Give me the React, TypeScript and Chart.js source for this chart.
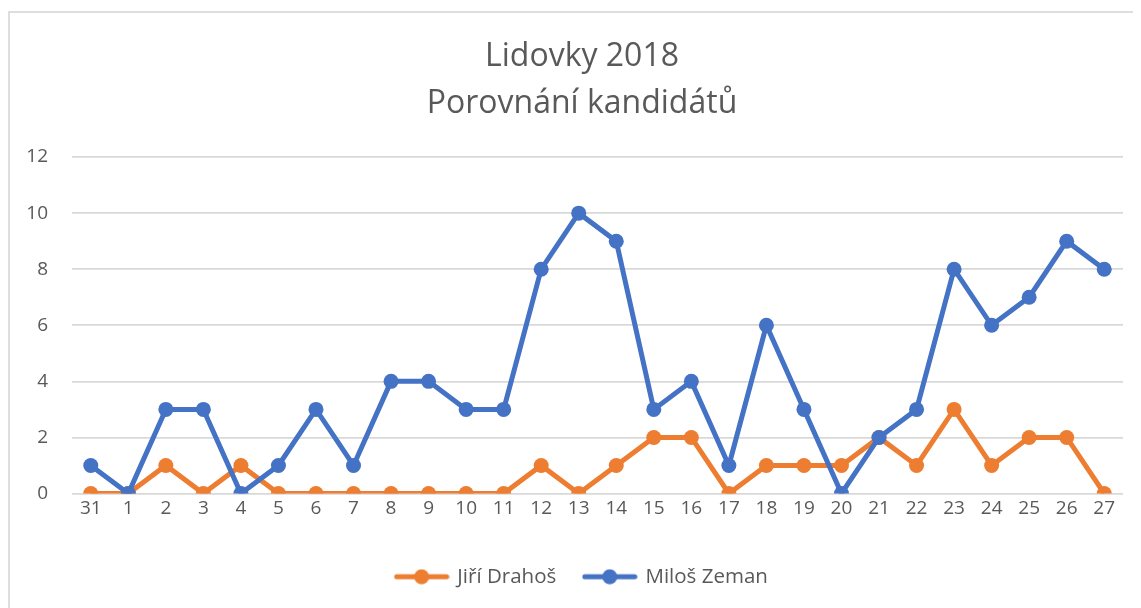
import React, { useEffect, useRef } from "react";
import { Chart, registerables } from "chart.js";

Chart.register(...registerables);

const days = ["31", "1", "2", "3", "4", "5", "6", "7", "8", "9", "10", "11", "12", "13", "14", "15", "16", "17", "18", "19", "20", "21", "22", "23", "24", "25", "26", "27"];
const drahos = [0, 0, 1, 0, 1, 0, 0, 0, 0, 0, 0, 0, 1, 0, 1, 2, 2, 0, 1, 1, 1, 2, 1, 3, 1, 2, 2, 0];
const zeman = [1, 0, 3, 3, 0, 1, 3, 1, 4, 4, 3, 3, 8, 10, 9, 3, 4, 1, 6, 3, 0, 2, 3, 8, 6, 7, 9, 8];
const titleLines = ["Lidovky 2018", "Porovnání kandidátů"];
const seriesNames = ["Jiří Drahoš", "Miloš Zeman"];

const ORANGE = "#ED7D31";
const BLUE = "#4472C4";
const TEXT = "#595959";
const GRID = "#d9d9d9";
const FONT = '"Open Sans", sans-serif';

function makeLegendIcon(color: string) {
  const c = document.createElement("canvas");
  c.width = 56;
  c.height = 16;
  const ctx = c.getContext("2d")!;
  ctx.strokeStyle = color;
  ctx.lineWidth = 5;
  ctx.lineCap = "round";
  ctx.beginPath();
  ctx.moveTo(3, 8);
  ctx.lineTo(53, 8);
  ctx.stroke();
  ctx.fillStyle = color;
  ctx.beginPath();
  ctx.arc(28, 8, 7.5, 0, Math.PI * 2);
  ctx.fill();
  return c;
}

const unclipY = {
  id: "unclipY",
  afterLayout(chart: any) {
    const y = chart.scales.y;
    if (y) y.left = 0;
  },
};

export default function App() {
  const ref = useRef<HTMLCanvasElement>(null);
  useEffect(() => {
    document.body.style.overflow = "hidden";
    const icons = [makeLegendIcon(ORANGE), makeLegendIcon(BLUE)];
    const chart = new Chart(ref.current!, {
      type: "line",
      data: {
        labels: days,
        datasets: [
          {
            label: seriesNames[0],
            data: drahos,
            borderColor: ORANGE,
            backgroundColor: ORANGE,
            borderWidth: 5,
            pointRadius: 7.5,
            pointBorderWidth: 0,
            pointBackgroundColor: ORANGE,
            tension: 0,
            order: 1,
          },
          {
            label: seriesNames[1],
            data: zeman,
            borderColor: BLUE,
            backgroundColor: BLUE,
            borderWidth: 5,
            pointRadius: 7.5,
            pointBorderWidth: 0,
            pointBackgroundColor: BLUE,
            tension: 0,
            order: 0,
          },
        ],
      },
      plugins: [unclipY],
      options: {
        animation: false,
        responsive: false,
        maintainAspectRatio: false,
        layout: { padding: { left: 31, right: 18, top: 0, bottom: 11 } },
        font: { family: FONT },
        plugins: {
          title: {
            display: true,
            text: titleLines,
            color: TEXT,
            font: { family: FONT, size: 32, weight: "normal", lineHeight: 1.47 },
            padding: { top: 20, bottom: 30 },
          },
          legend: {
            position: "bottom",
            labels: {
              usePointStyle: true,
              pointStyleWidth: 51,
              padding: 28,
              color: TEXT,
              font: { family: FONT, size: 20.5 },
              sort: (a: any, b: any) => a.datasetIndex - b.datasetIndex,
              generateLabels: (ch: any) => {
                const items = Chart.defaults.plugins.legend.labels.generateLabels(ch);
                return items.map((it: any) => ({ ...it, pointStyle: icons[it.datasetIndex] }));
              },
            },
          },
          tooltip: { enabled: false },
        },
        scales: {
          x: {
            offset: true,
            grid: { display: false, drawTicks: false },
            border: { display: false },
            ticks: { color: TEXT, font: { family: FONT, size: 19 }, padding: 4, maxRotation: 0, autoSkip: false },
            afterFit: (s: any) => { s.height = 45; },
          },
          y: {
            min: 0,
            max: 12,
            grid: { color: GRID, lineWidth: 1.7, drawTicks: false },
            border: { display: false },
            ticks: { stepSize: 2, color: TEXT, font: { family: FONT, size: 19 }, padding: 24 },
            afterFit: (s: any) => { s.width = 31; },
          },
        },
      },
    });
    return () => chart.destroy();
  }, []);
  return (
    <div style={{ paddingTop: 3 }}>
      <div
        style={{
          width: 1133,
          height: 597,
          borderLeft: "2px solid #dedede",
          borderTop: "2px solid #dedede",
          boxSizing: "border-box",
          background: "#fff",
        }}
      >
        <canvas ref={ref} width={1131} height={595} style={{ display: "block" }} />
      </div>
    </div>
  );
}
